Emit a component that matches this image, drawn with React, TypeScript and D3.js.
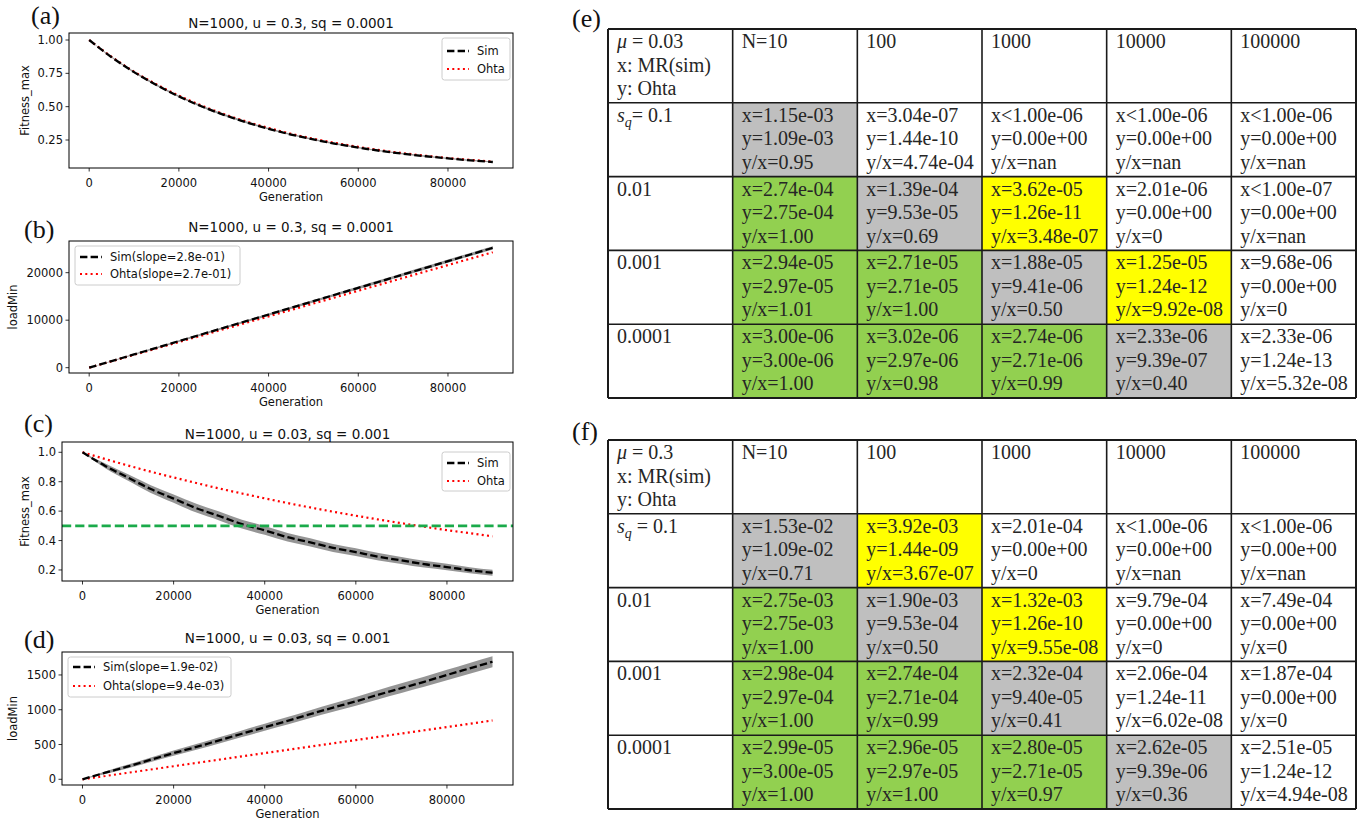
import React from "react";
import * as d3 from "d3";

// generations sampled along the x axis of the four line panels
const generations = [0, 5000, 10000, 15000, 20000, 25000, 30000, 35000, 40000, 45000, 50000, 55000, 60000, 65000, 70000, 75000, 80000, 85000, 90000];

// (a) N=1000, u=0.3, sq=0.0001 : Fitness_max
const fitnessSimA = [1.0, 0.871, 0.759, 0.662, 0.577, 0.503, 0.439, 0.383, 0.334, 0.291, 0.254, 0.221, 0.193, 0.168, 0.147, 0.128, 0.112, 0.097, 0.085];
const fitnessStdA = [0.0, 0.005, 0.006, 0.007, 0.007, 0.007, 0.007, 0.007, 0.006, 0.006, 0.006, 0.006, 0.005, 0.005, 0.005, 0.005, 0.004, 0.004, 0.004];
const fitnessOhtaA = [1.0, 0.874, 0.763, 0.667, 0.583, 0.509, 0.445, 0.389, 0.34, 0.297, 0.259, 0.227, 0.198, 0.173, 0.151, 0.132, 0.115, 0.101, 0.088];

// (b) N=1000, u=0.3, sq=0.0001 : loadMin
const loadSimB = [0, 1390, 2790, 4180, 5590, 6990, 8400, 9790, 11190, 12600, 14000, 15410, 16810, 18200, 19610, 21010, 22420, 23830, 25230];
const loadStdB = [0, 80, 120, 150, 170, 190, 210, 220, 240, 250, 260, 280, 290, 300, 310, 320, 330, 340, 350];
const loadOhtaB = [0, 1350, 2700, 4050, 5400, 6750, 8100, 9450, 10800, 12150, 13500, 14850, 16200, 17550, 18900, 20250, 21600, 22950, 24300];

// (c) N=1000, u=0.03, sq=0.001 : Fitness_max
const fitnessSimC = [1.0, 0.907, 0.828, 0.75, 0.685, 0.62, 0.567, 0.512, 0.469, 0.423, 0.388, 0.35, 0.321, 0.29, 0.265, 0.239, 0.22, 0.198, 0.181];
const fitnessStdC = [0.0, 0.016, 0.022, 0.026, 0.028, 0.03, 0.03, 0.03, 0.03, 0.029, 0.028, 0.027, 0.026, 0.025, 0.024, 0.023, 0.022, 0.021, 0.02];
const fitnessOhtaC = [1.0, 0.954, 0.91, 0.868, 0.829, 0.791, 0.754, 0.72, 0.687, 0.655, 0.625, 0.596, 0.569, 0.543, 0.518, 0.494, 0.471, 0.45, 0.429];
const halfFitness = 0.5;

// (d) N=1000, u=0.03, sq=0.001 : loadMin
const loadSimD = [0, 95, 185, 282, 376, 465, 560, 655, 748, 840, 937, 1030, 1120, 1217, 1310, 1402, 1500, 1595, 1690];
const loadStdD = [0, 18, 26, 32, 37, 41, 45, 48, 51, 54, 57, 60, 63, 66, 69, 72, 75, 78, 80];
const loadOhtaD = [0, 47, 94, 141, 188, 235, 282, 329, 376, 423, 470, 517, 564, 611, 658, 705, 752, 799, 846];

// tick labels
const genTicks = [0, 20000, 40000, 60000, 80000];
const fitTicksA = [0.25, 0.5, 0.75, 1.0];
const loadTicksB = [0, 10000, 20000];
const fitTicksC = [0.2, 0.4, 0.6, 0.8, 1.0];
const loadTicksD = [0, 500, 1000, 1500];

// tables (e) and (f)
const nLabels = ["N=10", "100", "1000", "10000", "100000"];
const sqLabels = ["0.1", "0.01", "0.001", "0.0001"];

const xE = [
  ["1.15e-03", "3.04e-07", "<1.00e-06", "<1.00e-06", "<1.00e-06"],
  ["2.74e-04", "1.39e-04", "3.62e-05", "2.01e-06", "<1.00e-07"],
  ["2.94e-05", "2.71e-05", "1.88e-05", "1.25e-05", "9.68e-06"],
  ["3.00e-06", "3.02e-06", "2.74e-06", "2.33e-06", "2.33e-06"],
];
const yE = [
  ["1.09e-03", "1.44e-10", "0.00e+00", "0.00e+00", "0.00e+00"],
  ["2.75e-04", "9.53e-05", "1.26e-11", "0.00e+00", "0.00e+00"],
  ["2.97e-05", "2.71e-05", "9.41e-06", "1.24e-12", "0.00e+00"],
  ["3.00e-06", "2.97e-06", "2.71e-06", "9.39e-07", "1.24e-13"],
];
const ratioE = [
  ["0.95", "4.74e-04", "nan", "nan", "nan"],
  ["1.00", "0.69", "3.48e-07", "0", "nan"],
  ["1.01", "1.00", "0.50", "9.92e-08", "0"],
  ["1.00", "0.98", "0.99", "0.40", "5.32e-08"],
];
const shadeE = ["swwww", "gsyww", "ggsyw", "gggsw"];

const xF = [
  ["1.53e-02", "3.92e-03", "2.01e-04", "<1.00e-06", "<1.00e-06"],
  ["2.75e-03", "1.90e-03", "1.32e-03", "9.79e-04", "7.49e-04"],
  ["2.98e-04", "2.74e-04", "2.32e-04", "2.06e-04", "1.87e-04"],
  ["2.99e-05", "2.96e-05", "2.80e-05", "2.62e-05", "2.51e-05"],
];
const yF = [
  ["1.09e-02", "1.44e-09", "0.00e+00", "0.00e+00", "0.00e+00"],
  ["2.75e-03", "9.53e-04", "1.26e-10", "0.00e+00", "0.00e+00"],
  ["2.97e-04", "2.71e-04", "9.40e-05", "1.24e-11", "0.00e+00"],
  ["3.00e-05", "2.97e-05", "2.71e-05", "9.39e-06", "1.24e-12"],
];
const ratioF = [
  ["0.71", "3.67e-07", "0", "nan", "nan"],
  ["1.00", "0.50", "9.55e-08", "0", "0"],
  ["1.00", "0.99", "0.41", "6.02e-08", "0"],
  ["1.00", "1.00", "0.97", "0.36", "4.94e-08"],
];
const shadeF = ["sywww", "gsyww", "ggsww", "gggsw"];

const shadeColor: Record<string, string> = {
  g: "#92d050",
  s: "#bfbfbf",
  y: "#ffff00",
  w: "#ffffff",
};

const SANS = "'DejaVu Sans', sans-serif";
const SERIF = "'Liberation Serif', 'Times New Roman', serif";
const FS = 11.5;

type Box = { l: number; r: number; t: number; b: number };
type LegendCfg = { x: number; y: number; w: number; h: number; rows: number[]; labels: string[] };

function Panel(props: {
  box: Box;
  yDomain: [number, number];
  sim: number[];
  std: number[];
  ohta: number[];
  yTicks: number[];
  yFmt: (v: number) => string;
  title: string;
  titleY: number;
  yLabel: string;
  yLabelX: number;
  tag: string;
  tagX: number;
  tagY: number;
  legend: LegendCfg;
  hline?: number;
}) {
  const { box, sim, std, ohta, legend } = props;
  const x = d3.scaleLinear().domain([-4500, 94500]).range([box.l, box.r]);
  const y = d3.scaleLinear().domain(props.yDomain).range([box.b, box.t]);

  const band = d3
    .area<number>()
    .x((_, i) => x(generations[i]))
    .y0((d, i) => y(d - std[i]))
    .y1((d, i) => y(d + std[i]))
    .curve(d3.curveMonotoneX);
  const line = d3
    .line<number>()
    .x((_, i) => x(generations[i]))
    .y((d) => y(d))
    .curve(d3.curveMonotoneX);

  const midY = (box.t + box.b) / 2;
  const sampleX0 = legend.x + 5;
  const sampleX1 = legend.x + 27;
  const textX = legend.x + 35;

  return (
    <g fill="#111">
      <text x={props.tagX} y={props.tagY} fontFamily={SERIF} fontSize={26}>
        {props.tag}
      </text>
      <text x={(box.l + box.r) / 2} y={props.titleY} textAnchor="middle" fontFamily={SANS} fontSize={13.5}>
        {props.title}
      </text>

      {/* data */}
      <path d={band(sim) || ""} fill="#7a7a7a" fillOpacity={0.8} stroke="none" />
      <path d={line(ohta) || ""} fill="none" stroke="#ff0000" strokeWidth={2.2} strokeDasharray="2,3.3" />
      <path d={line(sim) || ""} fill="none" stroke="#000" strokeWidth={2.3} strokeDasharray="7.4,3.2" />
      {props.hline !== undefined && (
        <line
          x1={box.l}
          x2={box.r}
          y1={y(props.hline)}
          y2={y(props.hline)}
          stroke="#1aaa4a"
          strokeWidth={2.6}
          strokeDasharray="9.2,4"
        />
      )}

      {/* frame */}
      <rect x={box.l} y={box.t} width={box.r - box.l} height={box.b - box.t} fill="none" stroke="#000" strokeWidth={1} />

      {/* x axis */}
      {genTicks.map((t) => (
        <g key={"x" + t}>
          <line x1={x(t)} x2={x(t)} y1={box.b} y2={box.b + 3.5} stroke="#000" strokeWidth={0.8} />
          <text x={x(t)} y={box.b + 19} textAnchor="middle" fontFamily={SANS} fontSize={FS}>
            {t}
          </text>
        </g>
      ))}
      <text x={(box.l + box.r) / 2} y={box.b + 33} textAnchor="middle" fontFamily={SANS} fontSize={FS}>
        Generation
      </text>

      {/* y axis */}
      {props.yTicks.map((t) => (
        <g key={"y" + t}>
          <line x1={box.l - 3.5} x2={box.l} y1={y(t)} y2={y(t)} stroke="#000" strokeWidth={0.8} />
          <text x={box.l - 6} y={y(t)} dy="0.36em" textAnchor="end" fontFamily={SANS} fontSize={FS}>
            {props.yFmt(t)}
          </text>
        </g>
      ))}
      <text
        transform={`translate(${props.yLabelX},${midY}) rotate(-90)`}
        dy="0.35em"
        textAnchor="middle"
        fontFamily={SANS}
        fontSize={FS}
      >
        {props.yLabel}
      </text>

      {/* legend */}
      <rect
        x={legend.x}
        y={legend.y}
        width={legend.w}
        height={legend.h}
        rx={2.5}
        fill="#fff"
        fillOpacity={0.8}
        stroke="#cccccc"
        strokeWidth={1}
      />
      <line x1={sampleX0} x2={sampleX1} y1={legend.rows[0]} y2={legend.rows[0]} stroke="#000" strokeWidth={2.3} strokeDasharray="7.4,3.2" />
      <line x1={sampleX0} x2={sampleX1} y1={legend.rows[1]} y2={legend.rows[1]} stroke="#ff0000" strokeWidth={2.2} strokeDasharray="2,3.3" />
      {legend.labels.map((lab, i) => (
        <text key={lab} x={textX} y={legend.rows[i]} dy="0.36em" fontFamily={SANS} fontSize={FS}>
          {lab}
        </text>
      ))}
    </g>
  );
}

function SqLabel({ x, y, text, join }: { x: number; y: number; text: string; join: string }) {
  return (
    <text x={x} y={y}>
      <tspan fontStyle="italic">s</tspan>
      <tspan fontStyle="italic" fontSize={14} dy={5}>
        q
      </tspan>
      <tspan dy={-5}>{join + text}</tspan>
    </text>
  );
}

function Table(props: {
  top: number;
  bottom: number;
  mu: string;
  join: string;
  xs: string[][];
  ys: string[][];
  ratios: string[][];
  shades: string[];
  tag: string;
  tagY: number;
}) {
  const col = d3.scaleBand<number>().domain(d3.range(6)).range([608, 1356]);
  const row = d3.scaleBand<number>().domain(d3.range(5)).range([props.top, props.bottom]);
  const cw = col.bandwidth();
  const rh = row.bandwidth();
  const pad = 9;
  const lineGap = 23.5;

  return (
    <g fontFamily={SERIF} fontSize={20} fill="#262626">
      <text x={572} y={props.tagY} fontSize={26} fill="#111">
        {props.tag}
      </text>

      {/* shaded cells */}
      {props.shades.map((s, r) =>
        s.split("").map((c, k) => (
          <rect key={r + "-" + k} x={col(k + 1)} y={row(r + 1)} width={cw} height={rh} fill={shadeColor[c]} />
        ))
      )}

      {/* header */}
      <text x={col(0)! + pad} y={row(0)! + 19}>
        <tspan fontStyle="italic">μ</tspan>
        <tspan>{" = " + props.mu}</tspan>
      </text>
      <text x={col(0)! + pad} y={row(0)! + 19 + lineGap}>
        x: MR(sim)
      </text>
      <text x={col(0)! + pad} y={row(0)! + 19 + 2 * lineGap}>
        y: Ohta
      </text>
      {nLabels.map((n, k) => (
        <text key={n} x={col(k + 1)! + pad} y={row(0)! + 19}>
          {n}
        </text>
      ))}

      {/* row labels */}
      {sqLabels.map((s, r) =>
        r === 0 ? (
          <SqLabel key={s} x={col(0)! + pad} y={row(1)! + 19} text={s} join={props.join} />
        ) : (
          <text key={s} x={col(0)! + pad} y={row(r + 1)! + 19}>
            {s}
          </text>
        )
      )}

      {/* cell values */}
      {props.xs.map((rowVals, r) =>
        rowVals.map((xv, k) => {
          const cx = col(k + 1)! + pad;
          const cy = row(r + 1)! + 19;
          return (
            <g key={"v" + r + "-" + k}>
              <text x={cx} y={cy}>{"x" + (xv.startsWith("<") ? xv : "=" + xv)}</text>
              <text x={cx} y={cy + lineGap}>{"y=" + props.ys[r][k]}</text>
              <text x={cx} y={cy + 2 * lineGap}>{"y/x=" + props.ratios[r][k]}</text>
            </g>
          );
        })
      )}

      {/* grid */}
      {d3.range(7).map((k) => {
        const gx = k < 6 ? col(k)! : 1356;
        return <line key={"c" + k} x1={gx} x2={gx} y1={props.top} y2={props.bottom} stroke="#1a1a1a" strokeWidth={k === 0 || k === 6 ? 2 : 1.6} />;
      })}
      {d3.range(6).map((r) => {
        const gy = r < 5 ? row(r)! : props.bottom;
        return <line key={"r" + r} x1={608} x2={1356} y1={gy} y2={gy} stroke="#1a1a1a" strokeWidth={r === 0 || r === 5 ? 2 : 1.6} />;
      })}
    </g>
  );
}

export default function App() {
  const f2 = d3.format(".2f");
  const f1 = d3.format(".1f");
  const fd = d3.format("d");
  return (
    <svg
      width={1363}
      height={823}
      viewBox="0 0 1363 823"
      style={{ position: "absolute", left: 0, top: 0, background: "#fff" }}
    >
      <rect width={1363} height={823} fill="#fff" />
      <Panel
        box={{ l: 69, r: 513, t: 33, b: 168 }}
        yDomain={[0.04, 1.0525]}
        sim={fitnessSimA}
        std={fitnessStdA}
        ohta={fitnessOhtaA}
        yTicks={fitTicksA}
        yFmt={f2}
        title="N=1000, u = 0.3, sq = 0.0001"
        titleY={28}
        yLabel="Fitness_max"
        yLabelX={25}
        tag="(a)"
        tagX={31}
        tagY={24}
        legend={{ x: 442, y: 38, w: 68, h: 42, rows: [51, 69], labels: ["Sim", "Ohta"] }}
      />
      <Panel
        box={{ l: 69, r: 513, t: 241, b: 373 }}
        yDomain={[-1120, 26670]}
        sim={loadSimB}
        std={loadStdB}
        ohta={loadOhtaB}
        yTicks={loadTicksB}
        yFmt={fd}
        title="N=1000, u = 0.3, sq = 0.0001"
        titleY={232}
        yLabel="loadMin"
        yLabelX={13}
        tag="(b)"
        tagX={24}
        tagY={238}
        legend={{ x: 75, y: 246, w: 165, h: 39, rows: [257, 274], labels: ["Sim(slope=2.8e-01)", "Ohta(slope=2.7e-01)"] }}
      />
      <Panel
        box={{ l: 62, r: 513, t: 442, b: 581 }}
        yDomain={[0.125, 1.07]}
        sim={fitnessSimC}
        std={fitnessStdC}
        ohta={fitnessOhtaC}
        yTicks={fitTicksC}
        yFmt={f1}
        title="N=1000, u = 0.03, sq = 0.001"
        titleY={439}
        yLabel="Fitness_max"
        yLabelX={25}
        tag="(c)"
        tagX={24}
        tagY={432}
        hline={halfFitness}
        legend={{ x: 442, y: 452, w: 68, h: 39, rows: [463, 481], labels: ["Sim", "Ohta"] }}
      />
      <Panel
        box={{ l: 62, r: 513, t: 652, b: 785 }}
        yDomain={[-82, 1830]}
        sim={loadSimD}
        std={loadStdD}
        ohta={loadOhtaD}
        yTicks={loadTicksD}
        yFmt={fd}
        title="N=1000, u = 0.03, sq = 0.001"
        titleY={643}
        yLabel="loadMin"
        yLabelX={13}
        tag="(d)"
        tagX={24}
        tagY={648}
        legend={{ x: 68, y: 657, w: 163, h: 40, rows: [667, 686], labels: ["Sim(slope=1.9e-02)", "Ohta(slope=9.4e-03)"] }}
      />
      <Table top={29} bottom={398} mu="0.03" join="= " xs={xE} ys={yE} ratios={ratioE} shades={shadeE} tag="(e)" tagY={27} />
      <Table top={440} bottom={809} mu="0.3" join=" = " xs={xF} ys={yF} ratios={ratioF} shades={shadeF} tag="(f)" tagY={440} />
    </svg>
  );
}
